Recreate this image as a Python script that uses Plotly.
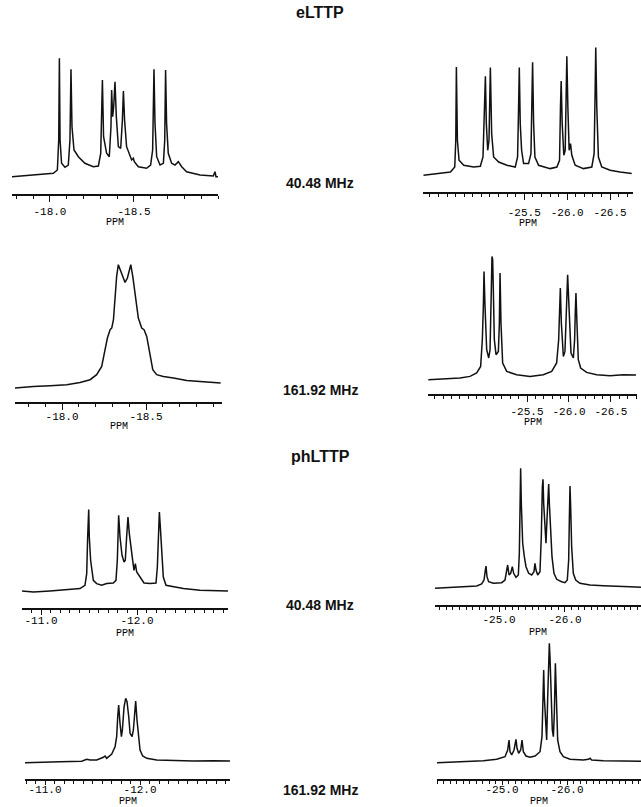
import plotly.graph_objects as go

# ---------------- text ----------------
COMPOUNDS = ["eLTTP", "phLTTP"]
FREQ_LABELS = ["40.48 MHz", "161.92 MHz", "40.48 MHz", "161.92 MHz"]
AXIS_TITLE = "PPM"

# ---------------- spectra (ppm, relative intensity) ----------------
# eLTTP, 40.48 MHz, left
P1_PPM = [-17.774, -17.901, -18.020, -18.044, -18.052, -18.056, -18.060, -18.069, -18.089, -18.109,
          -18.119, -18.125, -18.131, -18.143, -18.169, -18.208, -18.258, -18.288, -18.302, -18.312,
          -18.319, -18.337, -18.353, -18.363, -18.367, -18.373, -18.379, -18.387, -18.395, -18.407,
          -18.421, -18.431, -18.437, -18.444, -18.456, -18.486, -18.496, -18.502, -18.526, -18.575,
          -18.599, -18.611, -18.619, -18.625, -18.635, -18.655, -18.675, -18.683, -18.688, -18.694,
          -18.704, -18.724, -18.744, -18.764, -18.784, -18.813, -18.893, -18.972, -18.982, -18.988, -19.0]
P1_INT = [17.3, 19, 20.7, 24, 54, 135.7, 54, 30.7, 26.7, 29,
          54, 124.7, 67.3, 44, 37.3, 30.7, 27.3, 28, 40.7, 114,
          57.3, 40.7, 37.3, 67.3, 104, 77.3, 87.3, 112.3, 77.3, 47.3,
          45.7, 74, 103, 74, 47.3, 34, 35.7, 32.3, 27.3, 25.7,
          29, 44, 124.7, 70.7, 37.3, 29, 30.7, 54, 124, 70.7,
          40.7, 30.7, 29, 32.3, 27.3, 22.3, 19, 18, 22.3, 17.3, 17.3]
P1_TICKS = [-18.0, -18.5]
P1_RANGE = [-17.774, -19.0]

# eLTTP, 40.48 MHz, right
P2_PPM = [-24.326, -24.484, -24.640, -24.690, -24.702, -24.709, -24.721, -24.740, -24.795, -24.911,
          -24.988, -25.019, -25.035, -25.047, -25.058, -25.074, -25.089, -25.105, -25.120, -25.143,
          -25.202, -25.298, -25.395, -25.422, -25.434, -25.442, -25.453, -25.469, -25.492, -25.550,
          -25.578, -25.589, -25.597, -25.609, -25.624, -25.667, -25.802, -25.880, -25.911, -25.922,
          -25.930, -25.942, -25.961, -25.977, -25.988, -25.996, -26.008, -26.023, -26.039, -26.054,
          -26.093, -26.190, -26.287, -26.314, -26.326, -26.333, -26.345, -26.364, -26.403, -26.500,
          -26.616, -26.752]
P2_INT = [16.7, 18.4, 20, 25, 51.7, 125, 51.7, 31.7, 26.7, 25,
          25.7, 35, 85, 115.7, 68.4, 41.7, 51.7, 124.4, 58.4, 35,
          30, 26.7, 25, 35, 85, 124.4, 68.4, 41.7, 28.4, 28.4,
          38.4, 85, 129.7, 68.4, 35, 26.7, 23.4, 25, 31.7, 85,
          111, 68.4, 36.7, 41.7, 85, 135.7, 85, 41.7, 48.4, 36.7,
          26.7, 23.4, 25, 38.4, 101.7, 144.4, 85, 35, 25, 21.7,
          20, 18.4]
P2_TICKS = [-25.5, -26.0, -26.5]
P2_RANGE = [-24.32, -26.767]

# eLTTP, 161.92 MHz, left
P3_PPM = [-17.720, -17.829, -17.929, -18.028, -18.107, -18.167, -18.206, -18.236, -18.256, -18.270,
          -18.286, -18.296, -18.306, -18.315, -18.325, -18.335, -18.345, -18.361, -18.375, -18.389,
          -18.401, -18.409, -18.421, -18.435, -18.454, -18.474, -18.488, -18.504, -18.520, -18.540,
          -18.563, -18.603, -18.663, -18.742, -18.821, -18.881, -18.944]
P3_INT = [14, 15.6, 16.3, 17.3, 19.6, 22.3, 27.3, 35.6, 52.3, 64,
          72.3, 74, 82.3, 102.3, 125.6, 137.3, 132.3, 125.6, 119.6, 124,
          134, 137.3, 125.6, 105.6, 84, 74, 72.3, 65.6, 49, 32.3,
          27.3, 25.6, 24, 21.6, 20.6, 19.6, 19]
P3_TICKS = [-18.0, -18.5]
P3_RANGE = [-17.720, -18.952]

# eLTTP, 161.92 MHz, right
P4_PPM = [-24.325, -24.504, -24.702, -24.821, -24.901, -24.948, -24.968, -24.980, -24.988, -25.000,
          -25.020, -25.044, -25.060, -25.075, -25.083, -25.091, -25.099, -25.111, -25.131, -25.159,
          -25.171, -25.179, -25.190, -25.210, -25.258, -25.377, -25.536, -25.694, -25.794, -25.853,
          -25.877, -25.889, -25.897, -25.909, -25.933, -25.952, -25.972, -25.984, -26.000, -26.024,
          -26.052, -26.067, -26.075, -26.083, -26.095, -26.111, -26.139, -26.210, -26.329, -26.488,
          -26.647, -26.798]
P4_INT = [14.3, 15, 16, 17.6, 21, 27.6, 54.3, 87.6, 122.6, 87.6,
          44.3, 36, 44.3, 104.3, 137.6, 134.3, 104.3, 54.3, 39.3, 42.6,
          71, 121, 71, 31, 22.6, 19.3, 17.6, 19.3, 22.6, 31,
          54.3, 87.6, 106, 71, 37.6, 42.6, 87.6, 119.3, 87.6, 41,
          36, 54.3, 81, 101, 71, 34.3, 26, 21.6, 19.3, 18.3,
          19.3, 19]
P4_TICKS = [-25.5, -26.0, -26.5]
P4_RANGE = [-24.321, -26.810]

# phLTTP, 40.48 MHz, left
P5_PPM = [-10.802, -10.920, -11.094, -11.267, -11.406, -11.458, -11.476, -11.486, -11.497, -11.503,
          -11.517, -11.545, -11.580, -11.632, -11.684, -11.753, -11.781, -11.795, -11.809, -11.823,
          -11.844, -11.865, -11.878, -11.892, -11.906, -11.920, -11.938, -11.955, -11.969, -11.983,
          -11.997, -12.031, -12.073, -12.135, -12.198, -12.212, -12.226, -12.233, -12.243, -12.260,
          -12.274, -12.302, -12.378, -12.483, -12.656, -12.830, -12.948]
P5_INT = [17, 16, 17, 18.4, 19.4, 22.7, 34.4, 71, 98.4, 71,
          47.7, 27.7, 24.4, 22.7, 24.4, 25, 27.7, 47.7, 92.7, 71,
          52.7, 46, 47.7, 71, 91, 74.4, 57.7, 47.7, 37.7, 44.4,
          36, 31, 25, 24.4, 25, 41, 77.7, 96, 81, 47.7,
          31, 22.7, 21, 19.4, 17.7, 17, 17]
P5_TICKS = [-11.0, -12.0]
P5_RANGE = [-10.802, -12.948]

# phLTTP, 40.48 MHz, right
P6_PPM = [-24.030, -24.258, -24.460, -24.662, -24.737, -24.773, -24.793, -24.803, -24.818, -24.843,
          -24.914, -25.040, -25.091, -25.116, -25.131, -25.152, -25.177, -25.202, -25.222, -25.258,
          -25.293, -25.308, -25.318, -25.328, -25.338, -25.359, -25.384, -25.409, -25.449, -25.495,
          -25.530, -25.545, -25.561, -25.586, -25.621, -25.641, -25.657, -25.667, -25.677, -25.697,
          -25.712, -25.727, -25.742, -25.753, -25.763, -25.778, -25.803, -25.833, -25.874, -25.949,
          -26.000, -26.035, -26.056, -26.066, -26.076, -26.086, -26.101, -26.126, -26.162, -26.227,
          -26.379, -26.581, -26.783, -26.985, -27.152]
P6_INT = [16.7, 17.3, 18.3, 19, 21, 25, 35, 39, 28.3, 23.3,
          21.7, 22.3, 25, 33.3, 40, 30, 31.7, 38.3, 31.7, 27.7,
          30, 51.7, 101.7, 136.7, 101.7, 61.7, 48.3, 38.3, 31.7, 30,
          33.3, 41.7, 35, 30, 33.3, 68.3, 118.3, 125.7, 101.7, 68.3,
          61.7, 85, 118.3, 121, 101.7, 75, 48.3, 31.7, 25.7, 23.3,
          22.3, 25, 45, 85, 119, 98.3, 58.3, 31.7, 25, 21.7,
          20, 19.3, 19, 18.3, 17.7]
P6_TICKS = [-25.0, -26.0]
P6_RANGE = [-24.030, -27.152]

# phLTTP, 161.92 MHz, left
P7_PPM = [-10.789, -10.947, -11.158, -11.386, -11.439, -11.474, -11.544, -11.614, -11.632, -11.649,
          -11.702, -11.737, -11.754, -11.765, -11.775, -11.789, -11.804, -11.814, -11.832, -11.849,
          -11.863, -11.881, -11.895, -11.916, -11.930, -11.944, -11.954, -11.968, -11.982, -12.000,
          -12.028, -12.070, -12.175, -12.351, -12.561, -12.772, -12.947]
P7_INT = [16.3, 17, 17.3, 17.7, 19.7, 19, 19, 21.7, 23, 20.7,
          25, 32.3, 42.3, 62.3, 74, 55.7, 42.3, 49, 72.3, 80.7,
          77.3, 62.3, 45.7, 42.3, 49, 65.7, 78, 59, 42.3, 29,
          23, 20.7, 19, 18.3, 18, 18.3, 18]
P7_TICKS = [-11.0, -12.0]
P7_RANGE = [-10.789, -12.947]

# phLTTP, 161.92 MHz, right
P8_PPM = [-24.0, -24.354, -24.713, -24.918, -25.046, -25.087, -25.108, -25.123, -25.149, -25.185,
          -25.205, -25.215, -25.231, -25.256, -25.287, -25.308, -25.328, -25.369, -25.431, -25.508,
          -25.585, -25.615, -25.631, -25.641, -25.651, -25.672, -25.687, -25.703, -25.718, -25.728,
          -25.738, -25.754, -25.774, -25.790, -25.805, -25.821, -25.836, -25.856, -25.892, -25.944,
          -26.046, -26.251, -26.328, -26.354, -26.379, -26.559, -26.867, -27.138]
P8_INT = [16.3, 17, 18.3, 19.7, 22.3, 29, 39, 27.3, 24, 29,
          39, 39.7, 30.7, 25.7, 29, 39, 27.3, 23, 21.7, 23,
          27.3, 42.3, 82.3, 109, 82.3, 45.7, 39, 82.3, 119, 135.7,
          122.3, 82.3, 49, 42.3, 65.7, 115.7, 75.7, 39, 27.3, 22.3,
          19.7, 19, 19.7, 20.7, 19, 18.3, 18, 17.7]
P8_TICKS = [-25.0, -26.0]
P8_RANGE = [-24.0, -27.138]

PANELS = [
    (P1_PPM, P1_INT, P1_TICKS, P1_RANGE),
    (P2_PPM, P2_INT, P2_TICKS, P2_RANGE),
    (P3_PPM, P3_INT, P3_TICKS, P3_RANGE),
    (P4_PPM, P4_INT, P4_TICKS, P4_RANGE),
    (P5_PPM, P5_INT, P5_TICKS, P5_RANGE),
    (P6_PPM, P6_INT, P6_TICKS, P6_RANGE),
    (P7_PPM, P7_INT, P7_TICKS, P7_RANGE),
    (P8_PPM, P8_INT, P8_TICKS, P8_RANGE),
]

# ---------------- layout geometry (pixels) ----------------
W, H = 641, 807
# (left, right, axis line y, major tick length, tick-label standoff, "PPM" centre y)
GEOM = [
    (12, 218, 194, 6, 0, 222), (423, 633, 192, 6, 3, 223),
    (15, 222, 402, 6, -3, 427), (428, 637, 394, 6, 0, 422),
    (22, 228, 608, 5, -4, 633), (435, 641, 605, 5, -2, 632),
    (25, 230, 779, 4, -5, 801), (437, 641, 779, 4, -5, 801),
]
PANEL_H = 150  # pixels above the axis line, 1 intensity unit = 1 px

fig = go.Figure()
MONO = "Liberation Mono, DejaVu Sans Mono, monospace"
mono = dict(family=MONO, size=11, color="#000000")

for i, ((ppm, inten, ticks, rng), (x0, x1, ya, tl, tso, py)) in enumerate(zip(PANELS, GEOM)):
    n = i + 1
    xa = "x" if n == 1 else f"x{n}"
    yax = "y" if n == 1 else f"y{n}"
    fig.add_trace(go.Scatter(x=ppm, y=inten, mode="lines", xaxis=xa, yaxis=yax,
                             line=dict(color="#111", width=1.5), hoverinfo="skip",
                             showlegend=False))
    xkey = "xaxis" if n == 1 else f"xaxis{n}"
    ykey = "yaxis" if n == 1 else f"yaxis{n}"
    fig.layout[xkey] = dict(
        domain=[x0 / W, x1 / W], range=rng, anchor=yax,
        showline=True, linecolor="#111", linewidth=1.5,
        ticks="outside", ticklen=tl, tickwidth=1, tickcolor="#111",
        tickmode="array", tickvals=ticks, ticktext=[f"{v:.1f}" for v in ticks],
        tickfont=mono, ticklabelstandoff=tso, showgrid=False, zeroline=False,
        minor=dict(ticks="outside", ticklen=3, tickwidth=1, tickcolor="#111",
                   tickmode="linear", tick0=0, dtick=0.1, showgrid=False),
        fixedrange=True,
    )
    fig.layout[ykey] = dict(
        domain=[1 - ya / H, 1 - (ya - PANEL_H) / H], range=[0, PANEL_H],
        anchor=xa, visible=False, fixedrange=True,
    )
    fig.add_annotation(text=AXIS_TITLE, x=(x0 + x1) / 2 / W, y=1 - py / H,
                       xref="paper", yref="paper", showarrow=False,
                       xanchor="center", yanchor="middle", borderpad=0,
                       font=dict(family=MONO, size=10, color="#000000"))

bold = dict(family="Liberation Sans, Arial, sans-serif", color="#111")
text_pos = [(COMPOUNDS[0], 13, 16), (FREQ_LABELS[0], 183, 14), (FREQ_LABELS[1], 390, 14),
            (COMPOUNDS[1], 456, 16), (FREQ_LABELS[2], 605, 14), (FREQ_LABELS[3], 790, 14)]
for txt, yp, sz in text_pos:
    fig.add_annotation(text=f"<b>{txt}</b>", x=320 / W, y=1 - yp / H, xref="paper", yref="paper",
                       showarrow=False, xanchor="center", yanchor="middle",
                       font=dict(size=sz, **bold))

fig.update_layout(width=W, height=H, margin=dict(l=0, r=0, t=0, b=0),
                  paper_bgcolor="white", plot_bgcolor="white", showlegend=False)

fig.write_html("out.html", config={"displayModeBar": False},
               post_script="document.body.style.margin='0';document.body.style.overflow='hidden';")
